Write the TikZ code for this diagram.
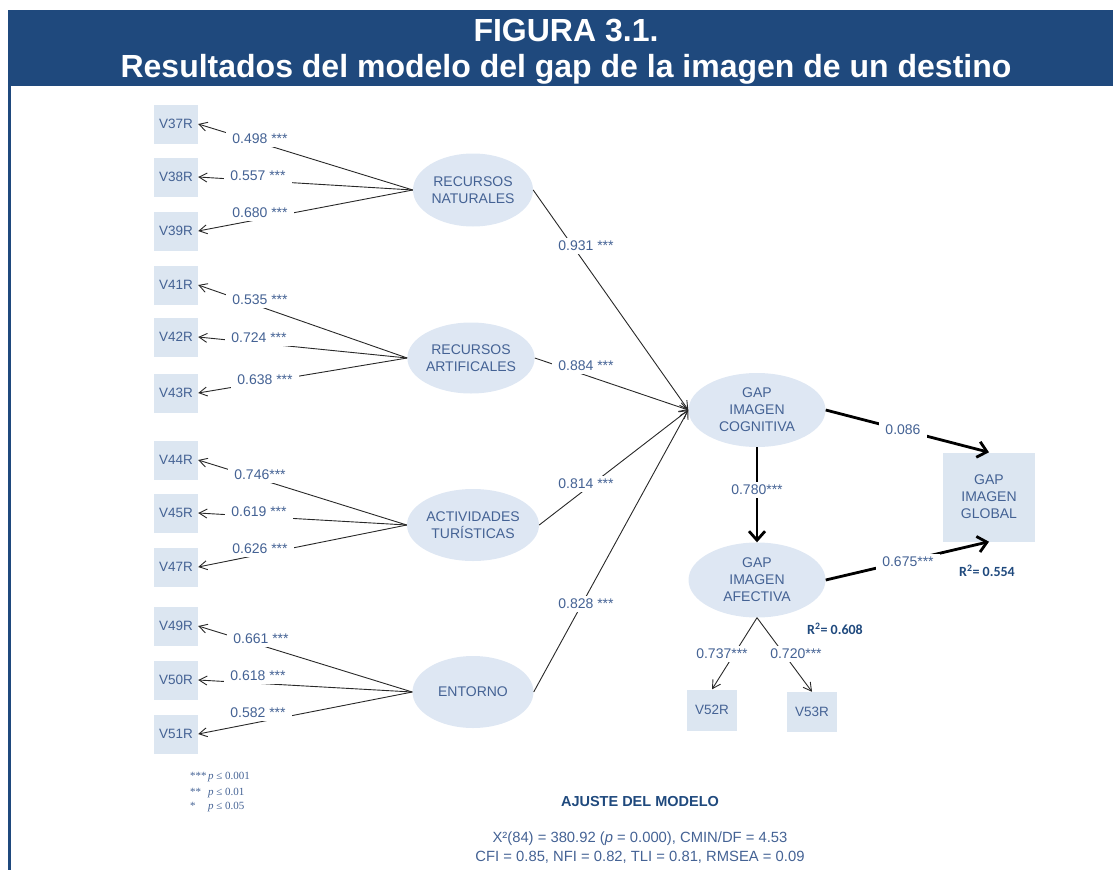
\documentclass[tikz,border=0pt]{standalone}
\usepackage{fontspec}
\setmainfont{Liberation Sans}
\newfontfamily\legserif{Liberation Serif}
\newfontfamily\carl{Carlito}
\usetikzlibrary{shapes.geometric,arrows.meta}
\definecolor{band}{RGB}{31,73,125}
\definecolor{boxfill}{RGB}{220,230,241}
\definecolor{ellfill}{RGB}{222,231,243}
\definecolor{txt}{RGB}{68,98,148}
\definecolor{linec}{RGB}{40,40,40}
\newcommand\labfont{\fontsize{14}{17}\selectfont}
\newcommand\boxfont{\fontsize{13.5}{17}\selectfont}
\newcommand\ttlfont{\fontsize{32}{36}\selectfont\bfseries}
\tikzset{
  obs/.style={rectangle, fill=boxfill, text=txt, font=\boxfont, minimum width=44pt, minimum height=39pt, inner sep=0pt},
  lat/.style={ellipse, fill=ellfill, text=txt, font=\labfont, align=center, inner sep=0pt},
  lab/.style={fill=white, text=txt, font=\labfont, inner xsep=6pt, inner ysep=3pt},
  arr/.style={draw=linec, line width=0.9pt, -{Straight Barb[length=8pt,width=9pt]}},
  bigarr/.style={draw=black, line width=2.8pt, -{Straight Barb[length=9pt,width=16pt]}},
  rsq/.style={text=band, font=\carl\fontsize{14}{16}\selectfont\bfseries, inner sep=0pt},
  leg/.style={text=txt, font=\legserif\fontsize{11}{12}\selectfont, inner sep=0pt, anchor=west}
}
\begin{document}
\begin{tikzpicture}[x=1pt,y=-1pt]
\useasboundingbox (0,0) rectangle (1113,870);
% frame and title
\fill[band] (8,10) rectangle (1113,86);
\draw[band, line width=3pt] (9.5,86) -- (9.5,870);
\node[text=white, font=\ttlfont, anchor=base, inner sep=0pt] (t1) at (566,41) {FIGURA 3.1.};
\node[text=white, font=\ttlfont, anchor=base, inner sep=0pt] (t2) at (566,77) {Resultados del modelo del gap de la imagen de un destino};

% observed indicators
\node[obs] (v37) at (176,124) {V37R};
\node[obs] (v38) at (176,177) {V38R};
\node[obs] (v39) at (176,231) {V39R};
\node[obs] (v41) at (176,285) {V41R};
\node[obs] (v42) at (176,337) {V42R};
\node[obs] (v43) at (176,393) {V43R};
\node[obs] (v44) at (176,460) {V44R};
\node[obs] (v45) at (176,513) {V45R};
\node[obs] (v47) at (176,567) {V47R};
\node[obs] (v49) at (176,626) {V49R};
\node[obs] (v50) at (176,680) {V50R};
\node[obs] (v51) at (176,734) {V51R};

% latent factors
\node[lat, minimum width=120pt, minimum height=73pt] (rn) at (473,190) {RECURSOS\\NATURALES};
\node[lat, minimum width=126pt, minimum height=71pt] (ra) at (471,358) {RECURSOS\\ARTIFICALES};
\node[lat, minimum width=130pt, minimum height=72pt] (at) at (473,525) {ACTIVIDADES\\TURÍSTICAS};
\node[lat, minimum width=121pt, minimum height=72pt] (en) at (473,692) {ENTORNO};
\node[lat, minimum width=137pt, minimum height=74pt] (gic) at (757,410) {GAP\\IMAGEN\\COGNITIVA};
\node[lat, minimum width=137pt, minimum height=75pt] (gia) at (757,580) {GAP\\IMAGEN\\AFECTIVA};
\node[obs, font=\labfont, align=center, minimum width=92pt, minimum height=89pt] (gig) at (989,497) {GAP\\IMAGEN\\GLOBAL};
\node[obs, minimum width=50pt, minimum height=41pt] (v52) at (712,710) {V52R};
\node[obs, minimum width=50pt, minimum height=40pt] (v53) at (812,712) {V53R};

% loadings
\draw[arr] (rn.west) -- (v37.east);
\draw[arr] (rn.west) -- (v38.east);
\draw[arr] (rn.west) -- (v39.east);
\draw[arr] (ra.west) -- (v41.east);
\draw[arr] (ra.west) -- (v42.east);
\draw[arr] (ra.west) -- (v43.east);
\draw[arr] (at.west) -- (v44.east);
\draw[arr] (at.west) -- (v45.east);
\draw[arr] (at.west) -- (v47.east);
\draw[arr] (en.west) -- (v49.east);
\draw[arr] (en.west) -- (v50.east);
\draw[arr] (en.west) -- (v51.east);

% structural paths
\draw[arr] (rn.east) -- (gic.west);
\draw[arr] (ra.east) -- (gic.west);
\draw[arr] (at.east) -- (gic.west);
\draw[arr] (en.east) -- (gic.west);
\draw[bigarr] (gic.east) -- (gig.north);
\draw[bigarr] (gic.south) -- (gia.north);
\draw[bigarr] (gia.east) -- (gig.south);
\draw[arr] (gia.south) -- (v52.north);
\draw[arr] (gia.south) -- (v53.north);

% labels
\node[lab] (l37) at (260,139) {0.498 ***};
\node[lab] (l38) at (258,176) {0.557 ***};
\node[lab] (l39) at (260,213) {0.680 ***};
\node[lab] (l41) at (260,300) {0.535 ***};
\node[lab] (l42) at (259,338) {0.724 ***};
\node[lab] (l43) at (265,380) {0.638 ***};
\node[lab] (l44) at (260,475) {0.746***};
\node[lab] (l45) at (259,512) {0.619 ***};
\node[lab] (l47) at (260,549) {0.626 ***};
\node[lab] (l49) at (261,639) {0.661 ***};
\node[lab] (l50) at (258,676) {0.618 ***};
\node[lab] (l51) at (258,713) {0.582 ***};
\node[lab] (lrn) at (586,246) {0.931 ***};
\node[lab] (lra) at (586,366) {0.884 ***};
\node[lab] (lat) at (586,484) {0.814 ***};
\node[lab] (len) at (586,604) {0.828 ***};
\node[lab] (lcg) at (903,430) {0.086};
\node[lab] (lca) at (757,490) {0.780***};
\node[lab] (lag) at (908,562) {0.675***};
\node[lab] (l52) at (722,654) {0.737***};
\node[lab] (l53) at (796,654) {0.720***};
\node[rsq] (r1) at (987,571) {R\textsuperscript{2}= 0.554};
\node[rsq] (r2) at (835,629) {R\textsuperscript{2}= 0.608};

% legend
\node[leg] (g1) at (190,777) {\makebox[18pt][l]{***}\textit{p} ≤ 0.001};
\node[leg] (g2) at (190,793) {\makebox[18pt][l]{**}\textit{p} ≤ 0.01};
\node[leg] (g3) at (190,807) {\makebox[18pt][l]{*}\textit{p} ≤ 0.05};

% fit
\node[text=band, font=\fontsize{14.5}{16}\selectfont\bfseries, inner sep=0pt] (fit) at (640,801) {AJUSTE DEL MODELO};
\node[text=txt, font=\fontsize{14.8}{17}\selectfont, inner sep=0pt] (f1) at (640,839) {X²(84) = 380.92 (\textit{p} = 0.000), CMIN/DF = 4.53};
\node[text=txt, font=\fontsize{14.8}{17}\selectfont, inner sep=0pt] (f2) at (640,857) {CFI = 0.85, NFI = 0.82, TLI = 0.81, RMSEA = 0.09};
\end{tikzpicture}
\end{document}
